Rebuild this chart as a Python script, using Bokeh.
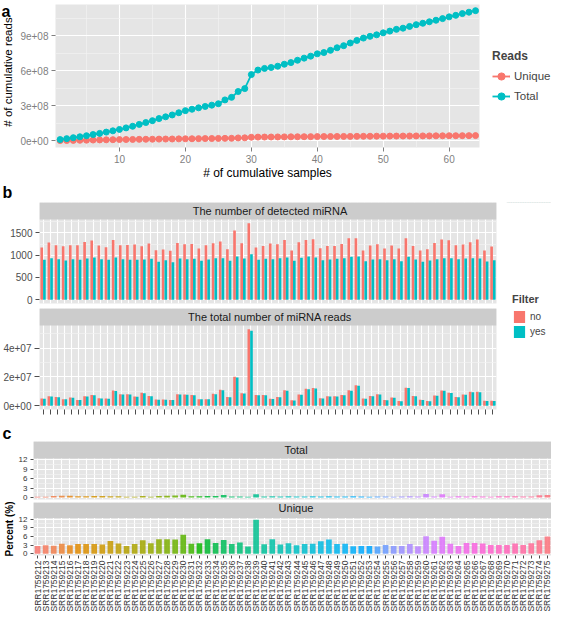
import math
from bokeh.plotting import figure
from bokeh.models import (Range1d, FactorRange, FixedTicker, Legend, LegendItem,
                          Label, BoxAnnotation, ColumnDataSource)
from bokeh.layouts import column, row
from bokeh.transform import dodge
from bokeh.embed import file_html
from bokeh.resources import INLINE

FONT = "Liberation Sans"

# ---------------- data ----------------
samples = ["SRR1759212", "SRR1759213", "SRR1759214", "SRR1759215", "SRR1759216", "SRR1759217",
           "SRR1759218", "SRR1759219", "SRR1759220", "SRR1759221", "SRR1759222", "SRR1759223",
           "SRR1759224", "SRR1759225", "SRR1759226", "SRR1759227", "SRR1759228", "SRR1759229",
           "SRR1759230", "SRR1759231", "SRR1759232", "SRR1759233", "SRR1759234", "SRR1759235",
           "SRR1759236", "SRR1759237", "SRR1759238", "SRR1759239", "SRR1759240", "SRR1759241",
           "SRR1759242", "SRR1759243", "SRR1759244", "SRR1759245", "SRR1759246", "SRR1759247",
           "SRR1759248", "SRR1759249", "SRR1759250", "SRR1759251", "SRR1759252", "SRR1759253",
           "SRR1759254", "SRR1759255", "SRR1759256", "SRR1759257", "SRR1759258", "SRR1759259",
           "SRR1759260", "SRR1759261", "SRR1759262", "SRR1759263", "SRR1759264", "SRR1759265",
           "SRR1759266", "SRR1759267", "SRR1759268", "SRR1759269", "SRR1759270", "SRR1759271",
           "SRR1759272", "SRR1759273", "SRR1759274", "SRR1759275"]

cum_samples = list(range(1, 65))

cum_total = [0.10e8, 0.18e8, 0.26e8, 0.34e8, 0.43e8, 0.53e8, 0.63e8, 0.74e8, 0.85e8, 0.97e8,
             1.10e8, 1.24e8, 1.40e8, 1.56e8, 1.72e8, 1.90e8, 2.05e8, 2.21e8, 2.40e8, 2.58e8,
             2.70e8, 2.82e8, 2.94e8, 3.05e8, 3.17e8, 3.50e8, 3.72e8, 4.22e8, 4.47e8, 5.67e8,
             6.06e8, 6.20e8, 6.28e8, 6.39e8, 6.56e8, 6.70e8, 6.90e8, 7.08e8, 7.25e8, 7.45e8,
             7.56e8, 7.75e8, 7.97e8, 8.15e8, 8.38e8, 8.60e8, 8.80e8, 8.95e8, 9.08e8, 9.25e8,
             9.40e8, 9.55e8, 9.65e8, 9.80e8, 9.95e8, 10.07e8, 10.20e8, 10.33e8, 10.47e8, 10.62e8,
             10.75e8, 10.90e8, 11.02e8, 11.15e8]

cum_unique = [0.10e7, 0.20e7, 0.30e7, 0.40e7, 0.50e7, 0.60e7, 0.70e7, 0.80e7, 0.90e7, 1.00e7,
              1.05e7, 1.10e7, 1.20e7, 1.25e7, 1.30e7, 1.40e7, 1.45e7, 1.50e7, 1.60e7, 1.65e7,
              1.70e7, 1.80e7, 1.85e7, 1.90e7, 2.00e7, 2.05e7, 2.10e7, 2.40e7, 2.50e7, 3.00e7,
              3.10e7, 3.15e7, 3.20e7, 3.25e7, 3.30e7, 3.35e7, 3.40e7, 3.45e7, 3.50e7, 3.55e7,
              3.60e7, 3.62e7, 3.65e7, 3.70e7, 3.72e7, 3.75e7, 3.80e7, 3.85e7, 3.90e7, 3.95e7,
              3.98e7, 4.00e7, 4.03e7, 4.06e7, 4.10e7, 4.13e7, 4.16e7, 4.20e7, 4.23e7, 4.27e7,
              4.30e7, 4.34e7, 4.37e7, 4.40e7]

detected_no = [1172, 1284, 1224, 1201, 1224, 1224, 1299, 1328, 1216, 1179,
               1343, 1224, 1231, 1239, 1201, 1261, 1112, 1127, 1097, 1276,
               1246, 1254, 1149, 1224, 1269, 1306, 1134, 1552, 1269, 1716,
               1172, 1209, 1261, 1246, 1343, 1104, 1291, 1343, 1358, 1157,
               1209, 1209, 1254, 1381, 1381, 1104, 1216, 1246, 1149, 1216,
               1149, 1381, 1209, 1104, 1134, 1276, 1351, 1336, 1224, 1239,
               1291, 1351, 1104, 1194]

detected_yes = [896, 933, 910, 881, 910, 896, 925, 948, 910, 896,
                948, 910, 896, 896, 903, 918, 851, 888, 843, 925,
                910, 918, 873, 903, 933, 933, 873, 970, 925, 1022,
                896, 918, 910, 933, 948, 873, 940, 970, 948, 888,
                903, 918, 933, 963, 970, 866, 903, 910, 888, 910,
                866, 963, 903, 851, 881, 910, 933, 933, 910, 925,
                933, 925, 858, 888]

reads_no = [0.50e7, 0.66e7, 0.60e7, 0.45e7, 0.57e7, 0.40e7, 0.66e7, 0.75e7, 0.52e7, 0.50e7,
            1.05e7, 0.80e7, 0.80e7, 0.64e7, 0.90e7, 0.68e7, 0.43e7, 0.43e7, 0.40e7, 0.80e7,
            0.78e7, 0.75e7, 0.45e7, 0.45e7, 0.82e7, 1.10e7, 0.60e7, 2.00e7, 0.87e7, 5.30e7,
            0.75e7, 0.75e7, 0.48e7, 0.60e7, 1.07e7, 0.37e7, 0.78e7, 1.17e7, 1.23e7, 0.52e7,
            0.66e7, 0.66e7, 0.75e7, 1.07e7, 1.42e7, 0.50e7, 0.68e7, 0.80e7, 0.39e7, 0.57e7,
            0.32e7, 1.25e7, 0.67e7, 0.41e7, 0.32e7, 0.71e7, 1.06e7, 0.90e7, 0.60e7, 0.78e7,
            0.97e7, 0.97e7, 0.34e7, 0.34e7]

reads_yes = [0.48e7, 0.64e7, 0.58e7, 0.44e7, 0.55e7, 0.39e7, 0.64e7, 0.73e7, 0.50e7, 0.48e7,
             1.02e7, 0.78e7, 0.78e7, 0.62e7, 0.87e7, 0.66e7, 0.42e7, 0.42e7, 0.39e7, 0.78e7,
             0.76e7, 0.73e7, 0.44e7, 0.44e7, 0.80e7, 1.07e7, 0.58e7, 1.95e7, 0.85e7, 5.20e7,
             0.73e7, 0.73e7, 0.47e7, 0.58e7, 1.04e7, 0.36e7, 0.76e7, 1.14e7, 1.20e7, 0.50e7,
             0.64e7, 0.64e7, 0.73e7, 1.04e7, 1.38e7, 0.48e7, 0.66e7, 0.78e7, 0.38e7, 0.55e7,
             0.31e7, 1.22e7, 0.65e7, 0.40e7, 0.31e7, 0.69e7, 1.03e7, 0.88e7, 0.58e7, 0.76e7,
             0.94e7, 0.94e7, 0.33e7, 0.33e7]

pct_total = [0.3, 0.3, 0.5, 0.6, 0.6, 0.4, 0.4, 0.5, 0.5, 0.4,
             0.4, 0.3, 0.3, 0.5, 0.3, 0.5, 0.6, 0.7, 0.9, 0.4,
             0.4, 0.5, 0.5, 0.85, 0.35, 0.35, 0.25, 1.05, 0.35, 0.4,
             0.35, 0.4, 0.35, 0.35, 0.4, 0.35, 0.4, 0.35, 0.35, 0.4,
             0.35, 0.3, 0.35, 0.35, 0.3, 0.35, 0.4, 0.35, 1.15, 0.35,
             1.05, 0.3, 0.45, 0.35, 0.45, 0.35, 0.25, 0.4, 0.45, 0.4,
             0.35, 0.35, 0.75, 0.85]

pct_unique = [2.7, 3.0, 2.8, 3.5, 3.0, 3.4, 3.4, 3.4, 3.2, 4.5,
              3.6, 2.7, 3.4, 4.7, 3.7, 5.1, 5.1, 5.0, 6.6, 3.5,
              3.7, 5.1, 3.8, 4.8, 3.4, 3.9, 2.5, 11.9, 3.3, 5.1,
              3.2, 3.7, 3.0, 3.4, 3.5, 4.35, 5.0, 3.4, 3.5, 2.65,
              2.75, 2.75, 2.55, 3.1, 2.75, 2.75, 3.4, 2.65, 6.15, 4.55,
              5.95, 3.5, 2.75, 3.8, 3.8, 3.6, 3.1, 3.1, 3.1, 3.6,
              3.1, 3.7, 4.7, 6.05]

a_yticks = [0, 3e8, 6e8, 9e8]
a_ylabels = ["0e+00", "3e+08", "6e+08", "9e+08"]
a_yminor = [1.5e8, 4.5e8, 7.5e8, 10.5e8]
a_xticks = [10, 20, 30, 40, 50, 60]
a_xminor = [5, 15, 25, 35, 45, 55]

b1_yticks = [0, 500, 1000, 1500]
b1_yminor = [250, 750, 1250, 1750]
b2_yticks = [0, 2e7, 4e7]
b2_ylabels = ["0e+00", "2e+07", "4e+07"]
b2_yminor = [1e7, 3e7, 5e7]
c_yticks = [0, 3, 6, 9, 12]
c_yminor = [1.5, 4.5, 7.5, 10.5]

RED = "#F8766D"
TEAL = "#00BFC4"
PANEL_BG = "#e5e5e5"
STRIP_BG = "#cccccc"
MINOR = "#f2f2f2"


def hue_colors(n, c=100, l=65):
    """ggplot2-style default hue palette (HCL)."""
    out = []
    Xn, Yn, Zn = 95.047, 100.0, 108.883
    un = 4 * Xn / (Xn + 15 * Yn + 3 * Zn)
    vn = 9 * Yn / (Xn + 15 * Yn + 3 * Zn)
    for i in range(n):
        h = 15 + 360.0 * i / n
        hr = math.radians(h)
        U, V = c * math.cos(hr), c * math.sin(hr)
        Y = Yn * ((l + 16) / 116.0) ** 3
        u = U / (13 * l) + un
        v = V / (13 * l) + vn
        X = 9.0 * Y * u / (4 * v)
        Z = -X / 3.0 - 5 * Y + 3 * Y / v
        X, Y2, Z = X / 100, Y / 100, Z / 100
        rgb = [3.240479 * X - 1.537150 * Y2 - 0.498535 * Z,
               -0.969256 * X + 1.875992 * Y2 + 0.041556 * Z,
               0.055648 * X - 0.204043 * Y2 + 1.057311 * Z]
        res = []
        for t in rgb:
            t = 12.92 * t if t <= 0.0031308 else 1.055 * t ** (1 / 2.4) - 0.055
            res.append(int(round(max(0, min(1, t)) * 255)))
        out.append("#%02x%02x%02x" % tuple(res))
    return out


W = 551


def make_fig(width, height, x_range, y_range, left, right, top, bottom):
    p = figure(width=width, height=height, x_range=x_range, y_range=y_range,
               output_backend="svg", toolbar_location=None,
               min_border_left=left, min_border_right=right,
               min_border_top=top, min_border_bottom=bottom)
    p.background_fill_color = PANEL_BG
    p.border_fill_color = "white"
    p.outline_line_color = None
    for g in p.grid:
        g.grid_line_color = "white"
        g.grid_line_width = 1.1
    return p


def text_fig(width, height, top=0, bottom=0, x_range=None, y_range=None):
    p = figure(width=width, height=height,
               x_range=x_range if x_range is not None else Range1d(0, 1),
               y_range=y_range if y_range is not None else Range1d(0, 1),
               x_axis_type=None, y_axis_type=None, output_backend="svg",
               toolbar_location=None, min_border_left=0, min_border_right=0,
               min_border_top=top, min_border_bottom=bottom)
    p.background_fill_color = "white"
    p.border_fill_color = "white"
    p.outline_line_color = None
    p.grid.visible = False
    return p


def style_axes(p, color, size, tick_color, tick_len=4, standoff=3):
    for ax in p.axis:
        ax.axis_line_color = None
        ax.major_tick_line_color = tick_color
        ax.major_tick_in = 0
        ax.major_tick_out = tick_len
        ax.minor_tick_line_color = None
        ax.major_label_standoff = standoff
        ax.major_label_text_font = FONT
        ax.major_label_text_font_size = size
        ax.major_label_text_color = color
        ax.axis_label_text_font = FONT
        ax.axis_label_text_font_style = "normal"
        ax.axis_label_text_color = "black"


def set_yticks(p, ticks, minor, labels=None):
    t = FixedTicker(ticks=ticks, minor_ticks=minor)
    p.yaxis.ticker = t
    p.ygrid.ticker = t
    p.ygrid.minor_grid_line_color = MINOR
    p.ygrid.minor_grid_line_width = 0.7
    if labels is not None:
        p.yaxis.major_label_overrides = {float(k): s for k, s in zip(ticks, labels)}


def letter(p, text, x, y, baseline="middle"):
    p.add_layout(Label(x=x, y=y, x_units="screen", y_units="screen", text=text,
                       text_font=FONT, text_font_style="bold", text_font_size="16px",
                       text_baseline=baseline, text_align="left", text_color="black"))


def strip(p, bottom, text, frame_w, frame_h):
    p.add_layout(BoxAnnotation(bottom=bottom, fill_color=STRIP_BG, fill_alpha=1.0,
                               line_color=None, level="annotation"))
    p.add_layout(Label(x=frame_w / 2.0, y=frame_h - 8.5, x_units="screen", y_units="screen",
                       text=text, text_font=FONT, text_font_size="11px",
                       text_align="center", text_baseline="middle", text_color="#1a1a1a"))


# ---------------- panel a ----------------
A_H, A_T, A_B = 182, 4, 31
LA_W = 17
LGA_W = 62
A_W = W - LA_W - LGA_W
A_L, A_R = 33, 10
A_FH = A_H - A_T - A_B

la = text_fig(LA_W, A_H, 0, A_B)
letter(la, "a", 1, A_H - A_B - 15, baseline="alphabetic")
la.add_layout(Label(x=7.5, y=A_T + A_FH / 2.0 - 2, x_units="screen", y_units="screen",
                    text="# of cumulative reads", angle=math.pi / 2, text_font=FONT,
                    text_font_size="11.5px", text_align="center", text_baseline="middle",
                    text_color="black"))

pa = make_fig(A_W, A_H, Range1d(0.3, 64.6), Range1d(-0.58e8, 11.68e8), A_L, A_R, A_T, A_B)
xt = FixedTicker(ticks=a_xticks, minor_ticks=a_xminor)
pa.xaxis.ticker = xt
pa.xgrid.ticker = xt
pa.xgrid.minor_grid_line_color = MINOR
pa.xgrid.minor_grid_line_width = 0.7
set_yticks(pa, a_yticks, a_yminor, a_ylabels)
style_axes(pa, "#7f7f7f", "10px", "#7f7f7f", 4, 3)
pa.xaxis.axis_label = "# of cumulative samples"
pa.xaxis.axis_label_text_font_size = "12px"
pa.xaxis.axis_label_standoff = 0

src_a = ColumnDataSource(dict(n=cum_samples, total=cum_total, unique=cum_unique))
pa.line("n", "unique", source=src_a, line_color=RED, line_width=1.8)
pa.scatter("n", "unique", source=src_a, size=6, fill_color=RED, line_color=RED)
pa.line("n", "total", source=src_a, line_color=TEAL, line_width=1.8)
pa.scatter("n", "total", source=src_a, size=6, fill_color=TEAL, line_color=TEAL)

# legend panel for a (its renderers lie outside its empty view; only the keys show)
lga = text_fig(LGA_W, A_H, A_T, A_B, x_range=Range1d(-200, -100),
               y_range=Range1d(-2.4e9, -1.2e9))
k_lu = lga.line("n", "unique", source=src_a, line_color=RED, line_width=1.8)
k_su = lga.scatter("n", "unique", source=src_a, size=6, fill_color=RED, line_color=RED)
k_lt = lga.line("n", "total", source=src_a, line_color=TEAL, line_width=1.8)
k_st = lga.scatter("n", "total", source=src_a, size=6, fill_color=TEAL, line_color=TEAL)
leg_a = Legend(items=[LegendItem(label="Unique", renderers=[k_lu, k_su]),
                      LegendItem(label="Total", renderers=[k_lt, k_st])],
               location=(3, 41), title="Reads",
               title_text_font=FONT, title_text_font_style="bold", title_text_font_size="12px",
               label_text_font=FONT, label_text_font_size="11.5px",
               glyph_width=18, glyph_height=20, spacing=0, label_standoff=4,
               title_standoff=3, padding=0, margin=0,
               background_fill_alpha=0, border_line_color=None)
lga.add_layout(leg_a)

root_a = row(la, pa, lga, spacing=0)

# ---------------- panel b ----------------
lb = text_fig(W, 20)
letter(lb, "b", 2, 10)

B_W = 506
LGB_W = W - B_W
B_L, B_R = 35, 10
B_FW = B_W - B_L - B_R
src_b = ColumnDataSource(dict(sample=samples, det_no=detected_no, det_yes=detected_yes,
                              rd_no=reads_no, rd_yes=reads_yes))

B1_H, B1_T, B1_B = 106, 0, 5
B1_FH = B1_H - B1_T - B1_B
pb1 = make_fig(B_W, B1_H, FactorRange(factors=samples), Range1d(-86, 2184), B_L, B_R, B1_T, B1_B)
set_yticks(pb1, b1_yticks, b1_yminor)
style_axes(pb1, "#4d4d4d", "10px", "#4d4d4d", 4, 3)
pb1.xaxis.visible = False
pb1.vbar(x=dodge("sample", -0.185, range=pb1.x_range), top="det_no", width=0.37,
         source=src_b, fill_color=RED, line_color=None)
pb1.vbar(x=dodge("sample", 0.185, range=pb1.x_range), top="det_yes", width=0.37,
         source=src_b, fill_color=TEAL, line_color=None)
strip(pb1, 1802, "The number of detected miRNA", B_FW, B1_FH)

B2_H, B2_T, B2_B = 113, 0, 12
B2_FH = B2_H - B2_T - B2_B
pb2 = make_fig(B_W, B2_H, pb1.x_range, Range1d(-0.265e7, 6.745e7), B_L, B_R, B2_T, B2_B)
set_yticks(pb2, b2_yticks, b2_yminor, b2_ylabels)
style_axes(pb2, "#4d4d4d", "10px", "#4d4d4d", 5, 3)
pb2.xaxis.major_label_text_font_size = "1px"
pb2.xaxis.major_label_text_alpha = 0
pb2.xaxis.major_label_standoff = 0
pb2.vbar(x=dodge("sample", -0.185, range=pb2.x_range), top="rd_no", width=0.37,
         source=src_b, fill_color=RED, line_color=None)
pb2.vbar(x=dodge("sample", 0.185, range=pb2.x_range), top="rd_yes", width=0.37,
         source=src_b, fill_color=TEAL, line_color=None)
strip(pb2, 5.565e7, "The total number of miRNA reads", B_FW, B2_FH)

LGB_H = B1_H + B2_H
LGB_FH = LGB_H - B1_T - B2_B
lgb = text_fig(LGB_W, LGB_H, B1_T, B2_B, x_range=pb1.x_range,
               y_range=Range1d(-2.0e8, -1.0e8))
k_no = lgb.vbar(x=dodge("sample", -0.185, range=pb1.x_range), top="rd_no", width=0.37,
                source=src_b, fill_color=RED, line_color=None)
k_yes = lgb.vbar(x=dodge("sample", 0.185, range=pb1.x_range), top="rd_yes", width=0.37,
                 source=src_b, fill_color=TEAL, line_color=None)
leg_b = Legend(items=[LegendItem(label="no", renderers=[k_no]),
                      LegendItem(label="yes", renderers=[k_yes])],
               location=(6, 70), title="Filter",
               title_text_font=FONT, title_text_font_style="bold", title_text_font_size="11px",
               label_text_font=FONT, label_text_font_size="10px",
               glyph_width=14, glyph_height=15, spacing=0, label_standoff=4,
               title_standoff=4, padding=0, margin=0,
               background_fill_alpha=0, border_line_color=None)
lgb.add_layout(leg_b)

root_b = row(column(pb1, pb2, spacing=0), lgb, spacing=0)

# ---------------- panel c ----------------
lc = text_fig(W, 20)
letter(lc, "c", 2, 8)

C_L, C_R = 26, 0
C_FW = W - C_L - C_R
colors = hue_colors(len(samples))
src_c = ColumnDataSource(dict(sample=samples, total=pct_total, unique=pct_unique, color=colors))

C1_H, C1_T, C1_B = 61, 0, 3
C1_FH = C1_H - C1_T - C1_B
pc1 = make_fig(W, C1_H, FactorRange(factors=samples), Range1d(-0.6, 17.9), C_L, C_R, C1_T, C1_B)
set_yticks(pc1, c_yticks, c_yminor)
style_axes(pc1, "#333333", "8px", "#4d4d4d", 3, 2)
pc1.xaxis.visible = False
pc1.vbar(x="sample", top="total", width=0.7, source=src_c, fill_color="color",
         fill_alpha=0.85, line_color=None)
strip(pc1, 12.5, "Total", C_FW, C1_FH)

C2_H, C2_T, C2_B = 112, 0, 56
C2_FH = C2_H - C2_T - C2_B
pc2 = make_fig(W, C2_H, pc1.x_range, Range1d(-0.6, 17.9), C_L, C_R, C2_T, C2_B)
set_yticks(pc2, c_yticks, c_yminor)
style_axes(pc2, "#333333", "8px", "#4d4d4d", 3, 2)
pc2.xaxis.major_label_orientation = math.pi / 2
pc2.xaxis.major_label_text_font_size = "8.5px"
pc2.vbar(x="sample", top="unique", width=0.7, source=src_c, fill_color="color",
         fill_alpha=0.85, line_color=None)
strip(pc2, 12.5, "Unique", C_FW, C2_FH)
pc2.yaxis.axis_label = "Percent (%)"
pc2.yaxis.axis_label_text_font_style = "bold"
pc2.yaxis.axis_label_text_font_size = "10px"
pc2.yaxis.axis_label_standoff = 1

root_c = column(pc1, pc2, spacing=0)

roots = [root_a, lb, root_b, lc, root_c]
open("out.html", "w").write(file_html(roots, INLINE))
